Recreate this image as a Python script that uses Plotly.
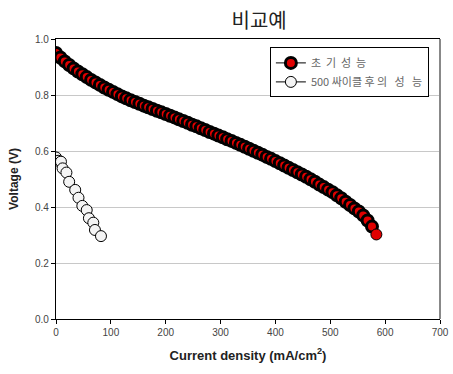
import plotly.graph_objects as go

# Initial performance (초기성능)
x_init = [0, 8, 16, 24, 32, 40, 48, 56, 64, 72, 80, 88, 96, 104, 112, 120, 128, 136, 144, 152,
          160, 168, 176, 184, 192, 200, 208, 216, 224, 232, 240, 248, 256, 264, 272, 280, 288, 296,
          304, 312, 320, 328, 336, 344, 352, 360, 368, 376, 384, 392, 400, 408, 416, 424, 432, 440,
          448, 456, 464, 472, 480, 488, 496, 504, 512, 520, 528, 536, 544, 552, 560, 568, 576, 584]
v_init = [0.950, 0.934, 0.920, 0.907, 0.895, 0.884, 0.874, 0.864, 0.854, 0.845, 0.836, 0.827,
          0.819, 0.811, 0.803, 0.795, 0.788, 0.781, 0.775, 0.769, 0.762, 0.756, 0.750, 0.744,
          0.738, 0.732, 0.726, 0.720, 0.713, 0.707, 0.701, 0.694, 0.688, 0.681, 0.675, 0.668,
          0.662, 0.655, 0.649, 0.642, 0.636, 0.629, 0.622, 0.615, 0.608, 0.601, 0.594, 0.587,
          0.579, 0.572, 0.564, 0.556, 0.548, 0.540, 0.532, 0.524, 0.516, 0.508, 0.499, 0.490,
          0.480, 0.471, 0.462, 0.453, 0.442, 0.431, 0.419, 0.407, 0.395, 0.384, 0.370, 0.352,
          0.330, 0.302]

# After 500 cycles (500싸이클후의 성능)
x_500 = [0, 4, 9, 12, 19, 24, 35, 41, 48, 56, 60, 68, 71, 82]
v_500 = [0.577, 0.565, 0.562, 0.538, 0.523, 0.490, 0.461, 0.433, 0.404, 0.389, 0.360, 0.344,
         0.318, 0.296]

x_ticks = [0, 100, 200, 300, 400, 500, 600, 700]
y_ticks = [0.0, 0.2, 0.4, 0.6, 0.8, 1.0]

name_init = "초\u00a0\u00a0기\u00a0\u00a0성\u00a0\u00a0능"
name_500 = "500\u00a0싸이클\u00a0후\u00a0의\u00a0\u00a0\u00a0성\u00a0\u00a0\u00a0능"

FONT = "Liberation Sans, Arial, sans-serif"
KFONT = "Noto Sans CJK KR, sans-serif"

border_init = [3] * (len(x_init) - 1) + [1]

fig = go.Figure()
fig.add_trace(go.Scatter(
    x=x_init, y=v_init, mode="lines+markers", name=name_init,
    line=dict(color="black", width=1),
    marker=dict(symbol="circle", size=11, color="#e00000", line=dict(color="black", width=border_init)),
))
fig.add_trace(go.Scatter(
    x=x_500, y=v_500, mode="lines+markers", name=name_500,
    line=dict(color="black", width=1),
    marker=dict(symbol="circle", size=11, color="#f4f4f4", line=dict(color="black", width=1)),
))

fig.update_layout(
    width=453, height=374,
    margin=dict(l=56, r=13, t=39, b=55),
    paper_bgcolor="white", plot_bgcolor="white",
    title=dict(text="비교예", x=0.572, xanchor="center", y=0.945, yanchor="middle",
               font=dict(family=KFONT, size=20, color="#222")),
    showlegend=True,
    legend=dict(x=0.557, y=0.97, xanchor="left", yanchor="top",
                bgcolor="white", bordercolor="black", borderwidth=1,
                font=dict(family=KFONT, size=11, color="#666"),
                tracegroupgap=0, itemwidth=30),
    font=dict(family=FONT),
)
fig.update_xaxes(
    range=[0, 700], tickvals=x_ticks, ticks="outside", ticklen=4, tickcolor="black",
    showline=True, linecolor="black", linewidth=1.3, mirror=True, showgrid=False, zeroline=False,
    automargin=False,
    tickfont=dict(family=FONT, size=10, color="#444"),
    title=dict(text="<b>Current density (mA/cm<sup>2</sup>)</b>", standoff=13,
               font=dict(family=FONT, size=13, color="#222")),
)
fig.update_yaxes(
    range=[0, 1.0], tickvals=y_ticks, tickformat=".1f", ticks="outside", ticklen=4, tickcolor="black",
    showline=True, linecolor="black", linewidth=1.3, showgrid=True, gridcolor="#c8c8c8", gridwidth=1,
    zeroline=False, automargin=False,
    tickfont=dict(family=FONT, size=10, color="#444"),
    title=dict(text="<b>Voltage (V)</b>", standoff=13, font=dict(family=FONT, size=12, color="#222")),
)
fig.add_shape(type="line", xref="paper", yref="paper", x0=1, x1=1, y0=0, y1=1,
              line=dict(color="#888", width=2))
fig.write_html("out.html", config={"displayModeBar": False},
               post_script="document.body.style.margin='0';")
